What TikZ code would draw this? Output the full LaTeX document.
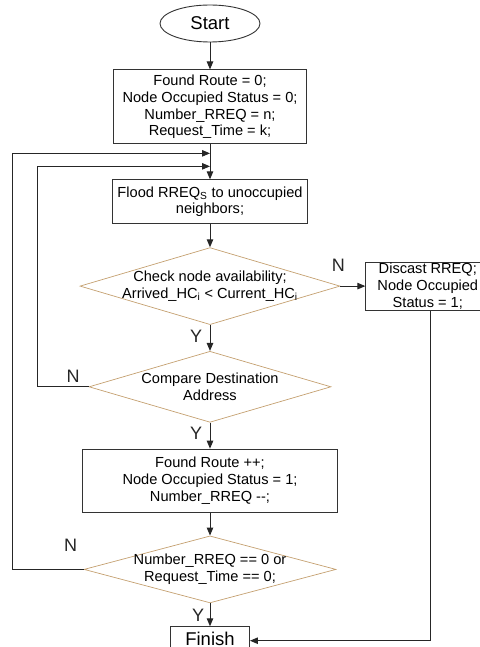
\documentclass[tikz,border=0pt]{standalone}
\usepackage{fontspec}
\setmainfont{Liberation Sans}
\usetikzlibrary{positioning, calc, shapes.geometric, arrows.meta}
\definecolor{dbrown}{RGB}{196,160,112}

\begin{document}
\begin{tikzpicture}[
    x=1pt, y=1pt,
    node distance=23pt,
    box/.style={rectangle, draw=black!80, line width=0.9pt, align=center, inner sep=0pt, font=\fontsize{14.6}{16.7}\selectfont},
    decision/.style={diamond, draw=dbrown, line width=0.7pt, inner sep=0pt},
    dtext/.style={align=center, font=\fontsize{14.6}{16.7}\selectfont},
    arrow/.style={-{Triangle[length=8pt,width=6.5pt]}, line width=1pt, black!85},
    yn/.style={font=\fontsize{18}{18}\selectfont, inner sep=0pt}
]
    \useasboundingbox (0,0) rectangle (479,-647);

    \node[ellipse, draw=black!80, line width=0.9pt, minimum width=100pt, minimum height=37pt, inner sep=0pt, font=\fontsize{18.5}{20}\selectfont] (start) at (210,-23.5) {Start};
    \node[box, minimum width=193pt, minimum height=74pt, below=27pt of start] (init) {Found Route = 0;\\Node Occupied Status = 0;\\Number\_RREQ = n;\\Request\_Time = k;};
    \node[box, minimum width=195pt, minimum height=44pt, below=35pt of init] (flood) {Flood RREQ\textsubscript{S} to unoccupied\\neighbors;};

    \node[decision, minimum width=260pt, minimum height=77pt, below=of flood,
        label={[dtext]center:Check node availability;\\Arrived\_HC\textsubscript{i} < Current\_HC\textsubscript{i}}] (avail) {};
    \node[box, minimum width=124pt, minimum height=48pt, right=25pt of avail] (discard) {Discast RREQ;\\Node Occupied\\Status = 1;};
    \node[decision, minimum width=242pt, minimum height=71pt, below=26pt of avail,
        label={[dtext]center:Compare Destination\\Address}] (dest) {};
    \node[box, minimum width=255pt, minimum height=63pt, below=26pt of dest] (found) {Found Route ++;\\Node Occupied Status = 1;\\Number\_RREQ -{}-;};
    \node[decision, minimum width=252pt, minimum height=67pt, below=of found,
        label={[dtext]center:Number\_RREQ == 0 or\\Request\_Time == 0;}] (stop) {};
    \node[box, minimum width=79pt, minimum height=28pt, text depth=4pt, below=of stop, font=\fontsize{18.5}{20}\selectfont] (finish) {Finish};

    % loop entries on the line into the flood box
    \coordinate (entryA) at ($(init.south)+(0,-9)$);
    \coordinate (entryB) at ($(init.south)+(0,-22)$);

    \draw[arrow] (start) -- (init);
    \draw[arrow] (init) -- (flood);
    \draw[arrow] (flood) -- (avail);
    \draw[arrow] (avail) -- (discard) node[yn, at start, xshift=-2pt, yshift=21pt] {N};
    \draw[arrow] (avail) -- (dest) node[yn, at start, xshift=-14pt, yshift=-11pt] {Y};
    \draw[arrow] (dest) -- (found) node[yn, at start, xshift=-14pt, yshift=-11pt] {Y};
    \draw[arrow] (found) -- (stop);
    \draw[arrow] (stop) -- (finish) node[yn, at start, xshift=-12pt, yshift=-12pt] {Y};

    \draw[arrow] (dest.west) -- ++(-51,0) node[yn, at start, xshift=-15.5pt, yshift=10pt] {N} |- (entryB);
    \draw[arrow] (stop.west) -- ++(-71,0) node[yn, at start, xshift=-13pt, yshift=24pt] {N} |- (entryA);
    \draw[arrow] ([xshift=3pt]discard.south) |- (finish.east);
\end{tikzpicture}
\end{document}
